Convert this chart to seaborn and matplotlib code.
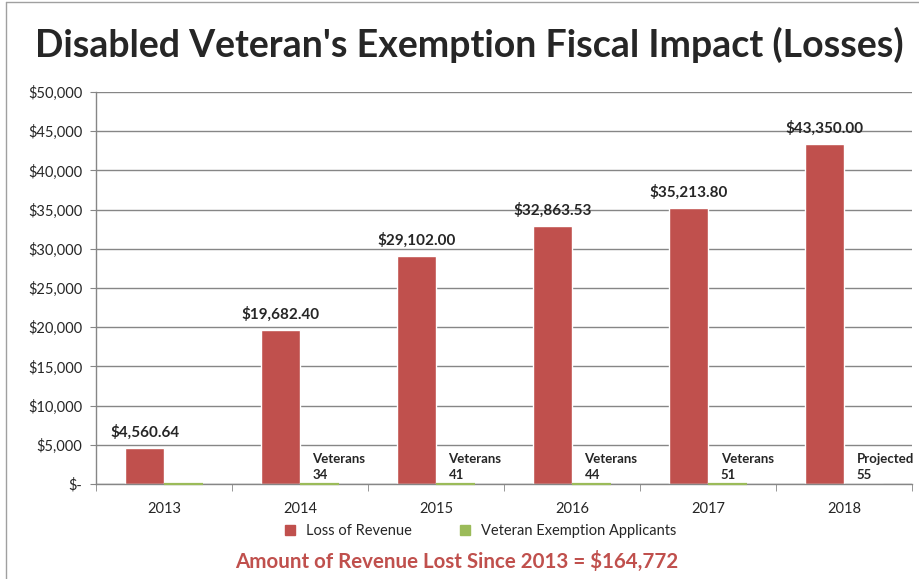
import pandas as pd
import matplotlib.pyplot as plt
import seaborn as sns
from matplotlib.ticker import FuncFormatter, FixedLocator
from matplotlib.lines import Line2D
from matplotlib.colors import to_rgb

# Data
years = ['2013', '2014', '2015', '2016', '2017', '2018']
loss_of_revenue = [4560.64, 19682.40, 29102.00, 32863.53, 35213.80, 43350.00]
applicants = [25, 34, 41, 44, 51, 0]
applicant_labels = ['', 'Veterans\n34', 'Veterans\n41', 'Veterans\n44', 'Veterans\n51', 'Projected\n55']
series_names = ['Loss of Revenue', 'Veteran Exemption Applicants']

red = '#C0504D'
green = '#9BBB59'
grid_gray = '#868686'

sns.set_style("white")
plt.rcParams['font.family'] = ['Lato', 'DejaVu Sans']

df = pd.DataFrame({
    'year': years * 2,
    'series': [series_names[0]] * len(years) + [series_names[1]] * len(years),
    'value': loss_of_revenue + applicants,
})

fig = plt.figure(figsize=(9.19, 5.79), dpi=100)
ax = fig.add_axes([0.1045, 0.164, 0.888, 0.677])

sns.barplot(data=df, x='year', y='value', hue='series', palette=[red, green],
            width=0.57, ax=ax, legend=False, saturation=1)

# make the tiny green bars visible as thin lines like the original
for patch in ax.patches:
    if patch.get_facecolor()[:3] == to_rgb(green) and patch.get_height() > 0:
        patch.set_edgecolor(green)
        patch.set_linewidth(1.6)
        patch.set_zorder(4)
        patch.set_clip_on(False)

ax.set_xlim(-0.5, len(years) - 0.5)
ax.set_ylim(0, 50000)
ax.set_yticks(range(0, 50001, 5000))
ax.yaxis.set_major_formatter(FuncFormatter(lambda v, p: '$-' if v == 0 else f'${v:,.0f}'))
ax.grid(axis='y', color=grid_gray, linewidth=1)
ax.set_axisbelow(True)
ax.set_xlabel('')
ax.set_ylabel('')

for side in ['top', 'right']:
    ax.spines[side].set_visible(False)
for side in ['left', 'bottom']:
    ax.spines[side].set_color(grid_gray)
    ax.spines[side].set_linewidth(1)

ax.tick_params(axis='y', length=4, color=grid_gray, labelsize=10.5, pad=6, left=True)
ax.tick_params(axis='x', which='major', length=0, labelsize=10.5, pad=13)
ax.xaxis.set_minor_locator(FixedLocator([i + 0.5 for i in range(-1, len(years))]))
ax.tick_params(axis='x', which='minor', length=5, color=grid_gray, bottom=True)

# value labels on red bars
bar_w = 0.285
for i, v in enumerate(loss_of_revenue):
    ax.annotate(f'${v:,.2f}', (i - bar_w / 2, v), xytext=(0, 6), textcoords='offset points',
                ha='center', va='bottom', fontsize=11, fontweight='bold')

# applicant labels next to the green bars
for i, lab in enumerate(applicant_labels):
    if lab:
        ax.annotate(lab, (i, 0), xytext=(9, 2), textcoords='offset points',
                    ha='left', va='bottom', fontsize=9.5, fontweight='bold', linespacing=1.4)

fig.text(0.511, 0.922, "Disabled Veteran's Exemption Fiscal Impact (Losses)",
         ha='center', va='center', fontsize=27, fontweight='bold')

handles = [Line2D([], [], marker='s', linestyle='', color=c, markersize=7.5) for c in [red, green]]
fig.legend(handles, series_names, loc='center', bbox_to_anchor=(0.518, 0.083), ncol=2,
           frameon=False, fontsize=10.5, handletextpad=0.1, columnspacing=2.6)

fig.text(0.497, 0.031, 'Amount of Revenue Lost Since 2013 = $164,772', ha='center', va='center',
         fontsize=14.8, fontweight='bold', color=red)

# chart area border (left and top edges visible in the original)
fig.add_artist(Line2D([0.006, 0.006], [0, 0.996], color='#A0A0A0', linewidth=1, transform=fig.transFigure))
fig.add_artist(Line2D([0.006, 1], [0.996, 0.996], color='#A0A0A0', linewidth=1, transform=fig.transFigure))

plt.savefig('out.png', dpi=100)
plt.close()
